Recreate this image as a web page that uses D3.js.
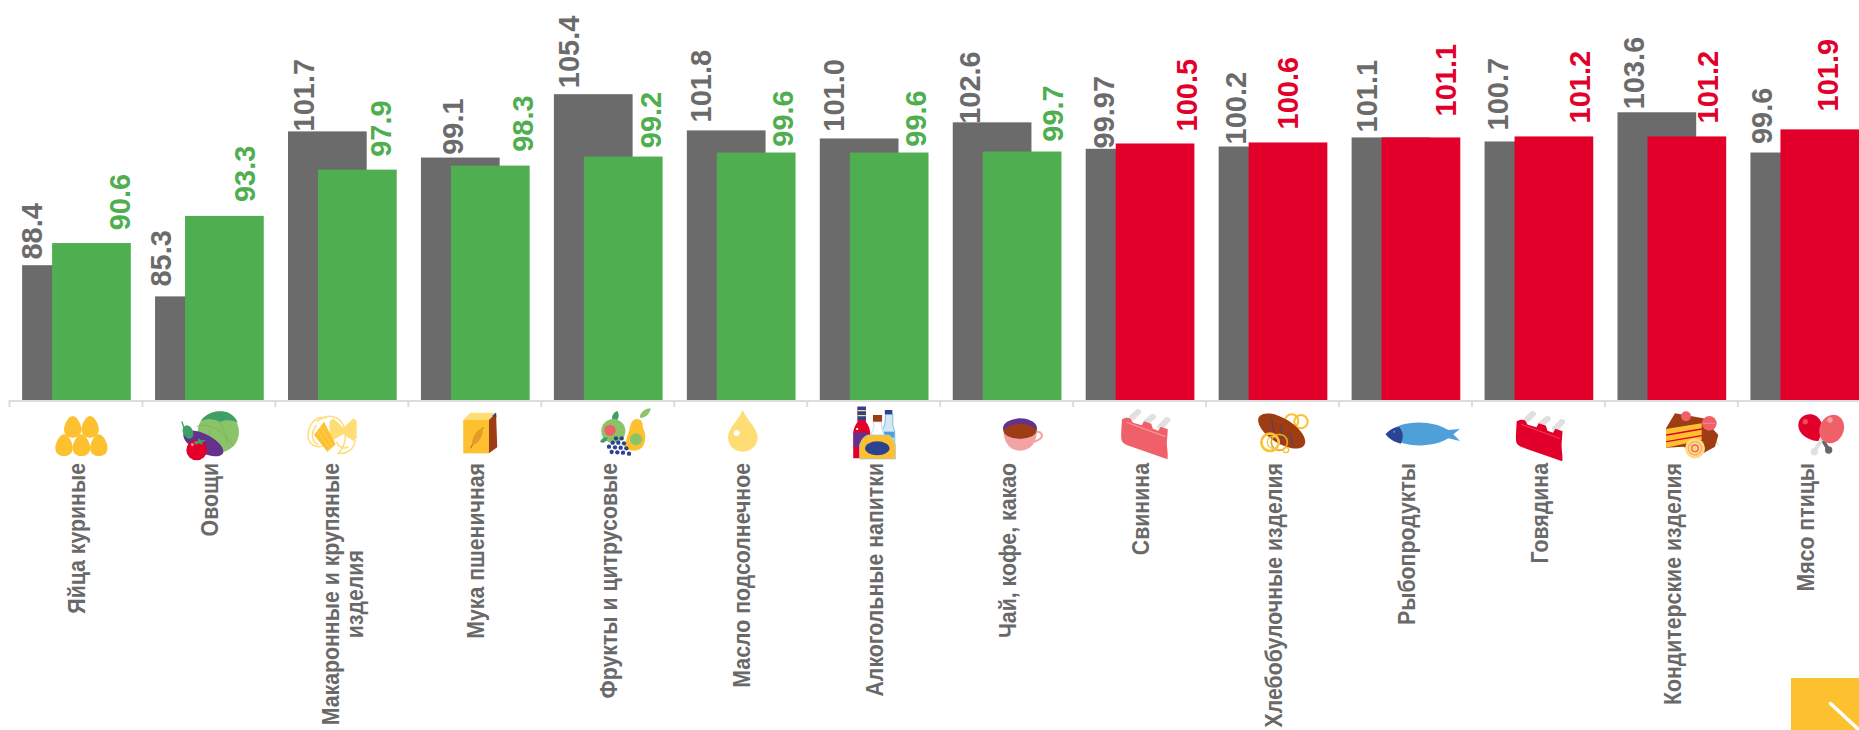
<!DOCTYPE html>
<html><head><meta charset="utf-8">
<style>html,body{margin:0;padding:0;background:#fff;overflow:hidden}svg{display:block}text{font-family:"Liberation Sans",Arial,sans-serif;font-weight:700}</style>
<script src="https://cdnjs.cloudflare.com/ajax/libs/d3/7.9.0/d3.min.js"></script>
</head><body><svg id="c" width="1859" height="730"></svg>
<script>
const categories=["Яйца куриные","Овощи","Макаронные и крупяные|изделия","Мука пшеничная","Фрукты и цитрусовые","Масло подсолнечное","Алкогольные напитки","Чай, кофе, какао","Свинина","Хлебобулочные изделия","Рыбопродукты","Говядина","Кондитерские изделия","Мясо птицы"];
const previousValues=[88.4,85.3,101.7,99.1,105.4,101.8,101.0,102.6,99.97,100.2,101.1,100.7,103.6,99.6];
const currentValues=[90.6,93.3,97.9,98.3,99.2,99.6,99.6,99.7,100.5,100.6,101.1,101.2,101.2,101.9];
const seriesColors=i=>currentValues[i]>100?"#e2002b":"#4fae50";
// label nudges (the original places its rotated labels individually)
const prevLabelRight=[22.2,17.8,28.5,44,27.7,26,26,29,30,30,28,25.5,29,23.5];
const prevLabelGap=[7.6,11.8,2,4.8,8,10,8.7,0.5,2.3,4,7,13,5,10.4];
const currLabelRight=[79.7,72,75.5,84,79.5,78,78,82,83,52,76.7,77.5,73,60];
const currLabelGap=[14.8,15.8,14.8,15.8,10.3,7.8,7.8,11.8,14,15,23,15,15,20];

const svg=d3.select("#c");
const x=d3.scaleBand().domain(categories).range([9.5,9.5+14*132.95]);
const y=d3.scaleLinear().domain([75,115]).range([400,-2.4]);
const W=78.7;
const gx=d=>x(d)+12.6, cx=d=>x(d)+42.6;
const fmt=v=>Number.isInteger(v)?v.toFixed(1):String(v);

categories.forEach((c,i)=>{
 svg.append("rect").attr("x",gx(c)).attr("y",y(previousValues[i])).attr("width",W).attr("height",y(75)-y(previousValues[i])).attr("fill","#6b6b6b");
 svg.append("rect").attr("x",cx(c)).attr("y",y(currentValues[i])).attr("width",W).attr("height",y(75)-y(currentValues[i])).attr("fill",seriesColors(i));
});
function vlabel(px,py,t,col){
 svg.append("text").attr("transform",`translate(${px-2.2},${py+2}) rotate(-90)`).attr("font-size",29).attr("fill",col).text(t);
}
categories.forEach((c,i)=>{
 vlabel(gx(c)+prevLabelRight[i],y(previousValues[i])-prevLabelGap[i],fmt(previousValues[i]),"#6b6b6b");
 vlabel(cx(c)+currLabelRight[i],y(currentValues[i])-currLabelGap[i],fmt(currentValues[i]),seriesColors(i));
});
const ax=svg.append("g").attr("stroke","#dcdcdc").attr("stroke-width",2).attr("fill","none");
ax.append("line").attr("x1",9.5).attr("x2",1859).attr("y1",401).attr("y2",401);
categories.forEach(c=>ax.append("line").attr("x1",x(c)).attr("x2",x(c)).attr("y1",400).attr("y2",407));

categories.forEach(c=>{
 const lines=c.split("|"), m=x(c)+x.bandwidth()/2;
 const T=(j,ty)=>svg.append("text").attr("transform",`translate(${m+9.5+(j*24.6)-(lines.length-1)*12.5},${ty}) scale(1.1,1) rotate(-90)`).attr("font-size",21.3).attr("fill","#696969").text(lines[j]);
 if(lines.length===1){T(0,463).attr("text-anchor","end");}
 else{
  const a=T(0,463).attr("text-anchor","end");
  const L=a.node().getComputedTextLength();
  T(1,463+L/2).attr("text-anchor","middle");
 }
});

// pictograms
const Y="#fdc02f",LY="#ffdd75",G="#8bc468",DG="#3fa067",P="#64318f",R="#e2002b",PK="#ef6068",LP="#f4a3a5",BR="#9e3d14",B="#2b4390",LB="#4f9fd8",LG="#e0e0e0";
function icon(z0,y0,wide,html){
 const k=wide?`scale(${1/2.53},${1/3})`:`scale(${1/3})`;
 svg.append("g").attr("transform",`translate(${z0},${y0}) ${k}`).html(html);
}
const egg=(c,t,b)=>`<path fill="${Y}" d="M${c},${t}C${c+12},${t} ${c+22},${t+28} ${c+22},${t+40}C${c+22},${b-6} ${c+11},${b} ${c},${b}C${c-11},${b} ${c-22},${b-6} ${c-22},${t+40}C${c-22},${t+28} ${c-12},${t} ${c},${t}Z"/>`;
const circ=(a,b,r,f,extra="")=>`<circle cx="${a}" cy="${b}" r="${r}" fill="${f}" ${extra}/>`;
const ring=(a,b,r,s,w)=>`<circle cx="${a}" cy="${b}" r="${r}" fill="none" stroke="${s}" stroke-width="${w}"/>`;
const ln=(a,b,c,d,s,w)=>`<line x1="${a}" y1="${b}" x2="${c}" y2="${d}" stroke="${s}" stroke-width="${w}" stroke-linecap="round"/>`;
icon(0,391,true,egg(184,75,140)+egg(228,75,140)+egg(162,130,195)+egg(206,130,195)+egg(250,130,195));
icon(170,406,false,
 circ(145,78,62,G)+
 `<path fill="${DG}" d="M92,45C110,20 150,8 178,22C195,32 200,42 203,50C185,40 160,42 150,48C135,38 110,38 92,45Z"/>`+
 `<path fill="none" stroke="#6fb257" stroke-width="2" d="M80,62C110,52 150,60 190,120M150,48C160,70 170,85 172,110M120,70C115,90 118,105 125,120"/>`+
 `<ellipse cx="100" cy="112" rx="66" ry="28" transform="rotate(27 100 112)" fill="${P}"/>`+
 `<ellipse cx="54" cy="78" rx="15" ry="21" transform="rotate(-25 54 78)" fill="${DG}"/>`+ln(36,48,42,65,DG,4)+
 circ(80,132,31,R)+`<path fill="${DG}" d="M70,108L84,104L86,96L92,103L108,102L96,110L98,118L88,112L78,116Z"/>`+circ(67,116,4,LP));
icon(170,405,false,
 `<g fill="none" stroke="${LY}" stroke-width="4.5"><path d="M470,40C430,28 410,70 415,100C420,125 450,130 465,120"/><path d="M440,50C470,25 505,30 520,60C535,100 520,130 505,145C530,150 555,130 555,105"/><path d="M440,60C420,85 425,110 445,120"/><path d="M500,110C505,125 520,135 535,125"/></g>`+
 `<path fill="${LY}" d="M478,50L490,40L520,68L550,40L560,48L560,100L550,108L520,88L490,105L480,95Z"/>`+
 `<path fill="${Y}" d="M432,90L462,50L497,118L472,140Z"/>`+
 `<path fill="none" stroke="${LY}" stroke-width="2" d="M442,78L482,135M452,66L490,128"/>`);
icon(0,390,true,
 `<path fill="${Y}" d="M1172,90H1237V190H1172Z"/><path fill="${LY}" d="M1172,90L1190,68H1255L1237,90Z"/><path fill="${BR}" d="M1237,90L1255,68L1258,172L1237,190Z"/><path fill="${B}" d="M1245,78L1255,68L1256,82Z"/>`+
 `<path fill="none" stroke="${BR}" stroke-width="2" d="M1190,175L1222,112"/><ellipse cx="1208" cy="140" rx="9" ry="25" transform="rotate(25 1208 140)" fill="#e59a2a"/>`);
icon(590,405,false,
 `<path fill="${DG}" d="M68,48C62,32 72,22 82,18C90,30 85,45 76,50Z"/>`+`<path fill="${G}" d="M150,38C148,25 165,10 182,10C180,25 168,40 150,38Z"/>`+
 circ(70,78,36,G)+circ(60,76,17,PK)+`<path fill="${DG}" d="M30,110C35,98 45,95 53,97C52,108 42,118 30,110Z"/>`+
 `<path fill="${Y}" d="M140,42C155,42 160,55 158,68C170,85 168,115 155,128C140,142 115,138 102,125L118,75C122,55 128,42 140,42Z"/>`+circ(138,103,18,G)+
 [[78,100],[95,100],[68,113],[85,113],[102,115],[57,125],[75,127],[92,128],[109,130],[65,141],[82,142],[99,143],[117,146]].map(p=>circ(p[0],p[1],6.5,B)).join(""));
icon(590,405,false,
 `<path fill="${LY}" d="M458,15C470,45 503,70 503,97C503,122 483,140 458,140C433,140 414,122 414,97C414,70 446,45 458,15Z"/>`+circ(440,84,9,"#fff"));
icon(620,390,true,
 `<path fill="${LB}" fill-opacity=".25" stroke="#8fc3e6" stroke-width="3" d="M672,72H690V105L695,125V170H662V125L670,105Z"/><rect x="670" y="60" width="19" height="13" fill="${B}"/><rect x="664" y="125" width="30" height="18" fill="${LB}"/>`+
 `<path fill="#fff" stroke="#cfe3f2" stroke-width="3" d="M642,95H662V112L668,135V170H635V135L642,112Z"/><rect x="640" y="75" width="23" height="20" fill="${BR}"/>`+
 `<path fill="${R}" d="M601,50H622V95C628,105 633,115 633,130V205H590V130C590,115 596,105 601,95Z"/><path fill="${B}" d="M601,50H622V90H601Z"/><path fill="${LY}" d="M601,60H622V64H601ZM601,75H622V79H601Z"/><rect x="591" y="128" width="36" height="42" fill="${P}"/>`+circ(600,117,3,"#fff")+
 `<path fill="${Y}" stroke="#9ec9e8" stroke-width="2" d="M606,207V165C610,150 618,137 628,135H680C688,140 695,155 697,168V207Z"/><ellipse cx="651" cy="175" rx="31" ry="21" fill="${B}"/>`);
icon(620,390,true,
 `<path fill="none" stroke="${LP}" stroke-width="6" d="M1045,128C1068,118 1075,140 1058,150C1050,156 1040,158 1035,160"/><path fill="${LP}" d="M970,120H1055C1055,155 1040,182 1012,182C985,182 970,155 970,120Z"/><ellipse cx="1012" cy="115" rx="43" ry="30" fill="${P}"/><ellipse cx="1012" cy="124" rx="41" ry="22" fill="${BR}"/>`);
const ribs=(col,ln2)=>ln(1296,82,1310,66,LG,17)+ln(1332,96,1348,80,LG,17)+ln(1368,110,1384,90,LG,17)+
 `<path fill="${col}" d="M1270,88C1278,82 1286,82 1292,86L1298,98L1320,106L1326,94L1344,101L1348,116L1362,122L1368,110L1386,118L1384,150C1382,170 1388,190 1385,208L1282,165C1268,158 1268,150 1268,130Z"/>`+
 `<path fill="none" stroke="${ln2}" stroke-width="2" d="M1282,97L1380,140"/>`;
icon(620,390,true,ribs(PK,"#f8c4c4"));
icon(1240,405,false,
 ring(155,48,20,Y,6)+ring(183,50,20,Y,6)+`<ellipse cx="125" cy="78" rx="80" ry="37" transform="rotate(32 125 78)" fill="${BR}"/>`+
 ln(95,42,102,85,B,2.5)+ln(122,62,128,100,B,2.5)+ln(150,85,158,122,B,2.5)+
 ring(118,112,24,"#e0a820",5)+ring(90,112,26,Y,8)+ring(100,112,18,"#f4c860",4)+ring(138,135,8,Y,4));
icon(1240,405,false,
 `<path fill="${LB}" d="M437,88C480,40 580,45 625,75L660,72L640,88L660,108L625,100C580,130 480,130 437,88Z"/><path fill="${B}" d="M437,88C450,72 465,67 478,66C492,85 490,100 482,116C465,112 450,105 437,88Z"/>`+circ(463,80,3,LB));
icon(1014.7,392,true,ribs(R,"#ef6068"));
icon(1650,405,false,
 ln(180,70,205,120,"#ccc",3)+`<path fill="${BR}" d="M48,70L75,25L160,40L205,90L195,125L150,150L100,125L48,128Z"/>`+
 `<path fill="${Y}" d="M48,72L155,55L155,105L110,115L48,128Z"/>`+ln(50,90,155,72,R,4)+ln(50,110,155,92,R,4)+
 circ(108,34,15,PK)+circ(178,55,22,PK)+ln(160,55,195,55,"#f4a3a5",2)+
 circ(135,130,30,LY)+ring(135,130,20,LP,4)+ring(135,130,10,PK,4));
icon(1650,405,false,
 ln(515,105,495,135,LG,12)+circ(493,140,11,LG)+ln(522,112,535,133,"#666",11)+circ(536,135,11,"#666")+
 `<path fill="${R}" d="M445,60C445,38 465,25 485,28C505,32 520,50 518,80L505,108C480,108 445,90 445,60Z"/>`+
 `<ellipse cx="545" cy="72" rx="36" ry="44" transform="rotate(22 545 72)" fill="${PK}"/>`+circ(466,50,8,"#ee4a5a")+circ(540,45,8,LP));

svg.append("rect").attr("x",1791).attr("y",678).attr("width",68).attr("height",52).attr("fill",Y);
svg.append("line").attr("x1",1830.5).attr("y1",703.5).attr("x2",1859).attr("y2",730).attr("stroke","#fff").attr("stroke-width",3.5).attr("stroke-linecap","round");
</script></body></html>
